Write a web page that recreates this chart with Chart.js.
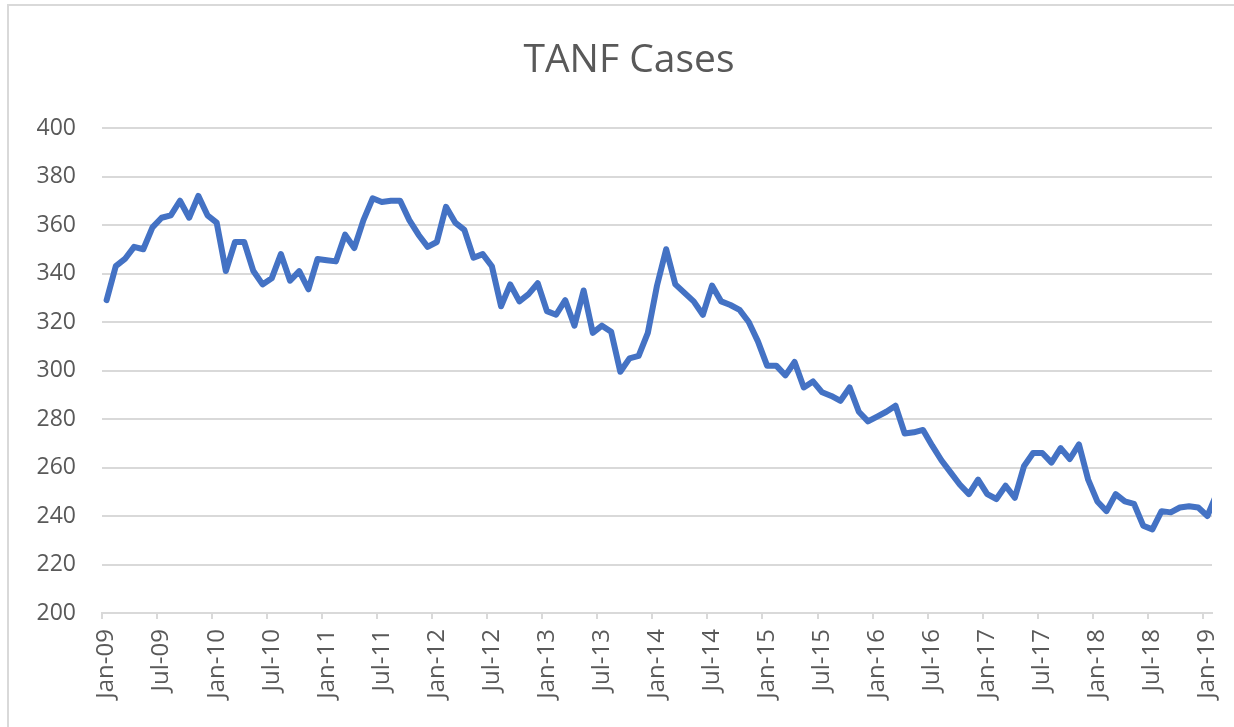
<!DOCTYPE html>
<html lang="en">
<head>
<meta charset="UTF-8" />
<title>TANF Cases</title>
<style>
    html, body {
        margin: 0;
        padding: 0;
        background: #ffffff;
        overflow: hidden;
    }

    /* light frame of the chart box, only top and left edges are in view */
    .chartFrame {
        position: absolute;
        left: 7px;
        top: 4px;
        width: 1400px;
        height: 900px;
        border-left: 2px solid #d9d9d9;
        border-top: 2px solid #d9d9d9;
    }

    #tanfChart {
        position: absolute;
        left: 0;
        top: 0;
    }
</style>
</head>
<body>
<div class="chartFrame"></div>
<canvas id="tanfChart" width="1234" height="727"></canvas>

<script src="https://cdn.jsdelivr.net/npm/chart.js"></script>
<script>
    // monthly TANF cases
    const cases2009 = [329, 343, 346, 351, 350, 359, 363, 364, 370, 363, 372, 364];
    const cases2010 = [361, 341, 353, 353, 341, 335.5, 338, 348, 337, 341, 333.5, 346];
    const cases2011 = [345.5, 345, 356, 350.5, 362, 371, 369.5, 370, 370, 362, 356, 351];
    const cases2012 = [353, 367.5, 361, 358, 346.5, 348, 343, 326.5, 335.5, 328.5, 331.5, 336];
    const cases2013 = [324.5, 323, 329, 318.5, 333, 315.5, 318.5, 316, 299.5, 305, 306, 315.5];
    const cases2014 = [335, 350, 335.5, 332, 328.5, 323, 335, 328.5, 327, 325, 320, 312];
    const cases2015 = [302, 302, 298, 303.5, 293, 295.5, 291, 289.5, 287.5, 293, 283, 279];
    const cases2016 = [281, 283, 285.5, 274, 274.5, 275.5, 269, 263, 258, 253, 249, 255];
    const cases2017 = [249, 247, 252.5, 247.5, 260.5, 266, 266, 262, 268, 263.5, 269.5, 255];
    const cases2018 = [246, 242, 249, 246, 245, 236, 234.5, 242, 241.5, 243.5, 244, 243.5];
    const cases2019 = [240, 249];   // Feb-19 runs past the axis end and is cut off

    const monthNames = ["Jan", "Feb", "Mar", "Apr", "May", "Jun", "Jul", "Aug", "Sep", "Oct", "Nov", "Dec"];
    const yearTags = ["09", "10", "11", "12", "13", "14", "15", "16", "17", "18", "19"];

    const yTicks = { min: 200, max: 400, step: 20 };
    const lastShownMonth = "Jan-19";
    const labelEvery = 6;
    const chartTitle = "TANF Cases";

    const values = [].concat(cases2009, cases2010, cases2011, cases2012, cases2013,
        cases2014, cases2015, cases2016, cases2017, cases2018, cases2019);

    // month labels Jan-09 ... for every value
    const labels = [];
    yearTags.forEach(function (yy) {
        monthNames.forEach(function (m) {
            if (labels.length < values.length) labels.push(m + "-" + yy);
        });
    });

    const textGrey = "#595959";
    const lineGrey = "#d9d9d9";
    const fontFamily = "'Open Sans', sans-serif";

    // title sits centred on the whole chart box (wider than the window), not on the plot
    const boxTitle = {
        id: "boxTitle",
        afterDraw: function (chart) {
            const ctx = chart.ctx;
            ctx.save();
            ctx.font = "39px " + fontFamily;
            ctx.fillStyle = textGrey;
            ctx.textAlign = "center";
            ctx.textBaseline = "middle";
            ctx.fillText(chartTitle, 629, 61);
            ctx.restore();
        },
    };

    const config = {
        type: "line",
        data: {
            labels: labels,
            datasets: [
                {
                    label: chartTitle,
                    data: values,
                    borderColor: "#4472c4",
                    backgroundColor: "#4472c4",
                    borderWidth: 6,
                    borderJoinStyle: "round",
                    borderCapStyle: "round",
                    pointRadius: 0,
                    pointHoverRadius: 0,
                    tension: 0,
                    fill: false,
                    clip: 0,
                },
            ],
        },
        options: {
            responsive: false,
            animation: false,
            devicePixelRatio: 1,
            layout: {
                padding: { left: 0, right: 22, top: 128, bottom: 0 },
            },
            plugins: {
                legend: { display: false },
                tooltip: { enabled: false },
                title: { display: false },
            },
            scales: {
                x: {
                    type: "category",
                    offset: true,
                    // stop the axis at Jan-19 but still let the line run on to the next point
                    afterDataLimits: function (scale) {
                        scale.max = labels.indexOf(lastShownMonth);
                    },
                    grid: {
                        offset: true,
                        drawOnChartArea: false,
                        tickLength: 6,
                        lineWidth: 2,
                        tickColor: function (ctx) {
                            return ctx.index % labelEvery === 0 ? lineGrey : "rgba(0,0,0,0)";
                        },
                    },
                    border: { color: lineGrey, width: 2 },
                    ticks: {
                        autoSkip: false,
                        minRotation: 90,
                        maxRotation: 90,
                        padding: 10,
                        color: textGrey,
                        font: { family: fontFamily, size: 24 },
                        callback: function (value, index) {
                            return index % labelEvery === 0 ? this.getLabelForValue(value) : "";
                        },
                    },
                    afterFit: function (scale) {
                        scale.height = 114;
                        scale.paddingLeft = 0;
                        scale.paddingRight = 0;
                    },
                },
                y: {
                    min: yTicks.min,
                    max: yTicks.max,
                    grid: {
                        color: lineGrey,
                        lineWidth: 2,
                        drawTicks: false,
                    },
                    border: { display: false },
                    ticks: {
                        stepSize: yTicks.step,
                        padding: 26,
                        color: textGrey,
                        font: { family: fontFamily, size: 23 },
                    },
                    afterFit: function (scale) {
                        scale.width = 102;
                    },
                },
            },
        },
        plugins: [boxTitle],
    };

    const tanfChart = new Chart(document.getElementById("tanfChart"), config);
</script>
</body>
</html>
